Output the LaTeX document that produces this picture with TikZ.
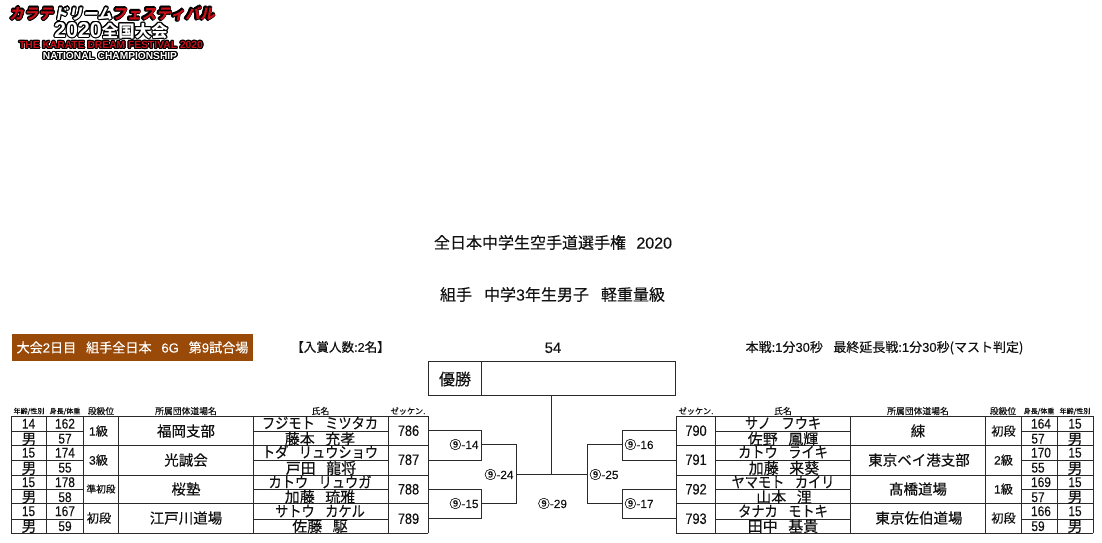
\documentclass[tikz,border=0pt]{standalone}
\usepackage{fontspec}
\usepackage{contour}
\setmainfont[FakeBold=0.25]{Noto Sans CJK JP}
\newfontfamily\arf[FakeBold=0.2]{Liberation Sans}
\newfontfamily\arn[FakeBold=0.2,FakeStretch=0.85]{Liberation Sans}
\newfontfamily\kana[FakeBold=0.25,FakeStretch=0.88]{Noto Sans CJK JP}
\newfontfamily\logof[FakeSlant=0.18]{Noto Sans CJK JP}
\newfontfamily\logoj{Noto Sans CJK JP}
\newfontfamily\logoe{Liberation Sans}
\newcommand{\fs}[1]{\fontsize{#1}{#1}\selectfont}
\newcommand{\dg}[1]{{\arf #1}}
\definecolor{inkc}{HTML}{111111}
\definecolor{linec}{HTML}{2A2A2A}
\definecolor{brownc}{HTML}{9A4A08}
\definecolor{logor}{HTML}{C80F18}
\contourlength{1.1pt}
\tikzset{
 tx/.style={inner sep=0pt,text=inkc,text height=0pt,text depth=0pt,anchor=center,font=\fs{#1},yshift={-.38*#1 pt}},
 txa/.style={tx=#1,font=\arf\fs{#1},yshift={.02*#1 pt}},
 hdr/.style={tx=8.8},
 hdrk/.style={tx=8.2},
 hdrs/.style={tx=7},
 num/.style={tx=14,font=\arn\fs{14},yshift=.3pt},
 sex/.style={tx=15},
 seed/.style={tx=15,font=\arn\fs{15},yshift=.3pt},
 dan/.style={tx=12.2},
 dojo/.style={tx=14.5},
 nmk/.style={tx=15,font=\kana\fs{15}},
 nmj/.style={tx=15},
 bout/.style={tx=11.8},
 grid/.style={draw=linec,line width=1pt},
 link/.style={draw=linec,line width=1pt},
 logot/.style={inner sep=0pt,anchor=center}
}
\begin{document}
\begin{tikzpicture}[x=1pt,y=-1pt]
\useasboundingbox (0,0) rectangle (1102,542);
\fill[white] (0,0) rectangle (1102,542);
% logo
\node[logot,font=\logof\bfseries\fs{14.8}] (lg1) at (112,14) {\contour{black}{\textcolor{logor}{カラテ}\textcolor{white}{ドリーム}\textcolor{logor}{フェスティバル}}};
\node[logot,font=\logoj\bfseries\fs{16.5}] (lg2) at (111,31) {\contour{black}{\textcolor{white}{{\logoe\bfseries\fs{21.5}2020}全国大会}}};
\node[logot,font=\logoe\bfseries\fs{10.3}] (lg3) at (111,45.5) {\contour{black}{\textcolor{logor}{THE KARATE DREAM FESTIVAL 2020}}};
\node[logot,font=\logoe\bfseries\fs{10.2}] (lg4) at (110,56.5) {\contour{black}{\textcolor{white}{NATIONAL CHAMPIONSHIP}}};
% titles
\node[tx=16] (t1) at (553,242.5) {全日本中学生空手道選手権\hspace{.65em}\dg{2020}};
\node[tx=16] (t2) at (552.5,294.5) {組手\hspace{.75em}中学\dg{3}年生男子\hspace{.75em}軽重量級};
% info row
\node[fill=brownc,minimum width=241pt,minimum height=27pt,inner sep=0pt] (cat) at (132.5,347.5) {};
\node[tx=13.1,text=white] (catt) at (cat.center) {大会\dg{2}日目\hspace{.75em}組手全日本\hspace{.75em}\dg{6G}\hspace{.75em}第\dg{9}試合場};
\node[tx=12.6] (prize) at (340.5,347) {【入賞人数:\dg{2}名】};
\node[txa=15] (no) at (553,347.5) {54};
\node[tx=13] (rule) at (884.5,347) {本戦:\dg{1}分\dg{30}秒\hspace{.8em}最終延長戦:\dg{1}分\dg{30}秒(マスト判定)};
% winner
\draw[grid] (428.3,361) rectangle (675.7,395.7);
\draw[grid] (481.7,361) -- (481.7,395.7);
\node[tx=16] (win) at (455,379) {優勝};
\coordinate (wb) at (551.3,395.7);
% left table
\foreach \x in {11,46,83,118,253,388,428} \draw[grid] (\x,416) -- (\x,533);
\foreach \y in {416,445.5,475,503.5,533} \draw[grid] (11,\y) -- (428,\y);
\foreach \y in {431,460,489.5,519} {\draw[grid] (11,\y) -- (83,\y); \draw[grid] (253,\y) -- (388,\y);}
% right table
\foreach \x in {676,715.5,850.5,985.5,1021,1057,1093} \draw[grid] (\x,416) -- (\x,533);
\foreach \y in {416,445.5,475,503.5,533} \draw[grid] (676,\y) -- (1093,\y);
\foreach \y in {431,460,489.5,519} {\draw[grid] (715.5,\y) -- (850.5,\y); \draw[grid] (1021,\y) -- (1093,\y);}
% left headers
\node[hdrs] (hl1) at (29,411) {年齢/性別};
\node[hdrs] (hl2) at (65,411) {身長/体重};
\node[hdr] (hl3) at (101,411) {段級位};
\node[hdr] (hl4) at (186,411) {所属団体道場名};
\node[hdr] (hl5) at (320.5,411) {氏名};
\node[hdrk] (hl6) at (408,411) {ゼッケン.};
% right headers
\node[hdrk] (hr6) at (696,411) {ゼッケン.};
\node[hdr] (hr5) at (783,411) {氏名};
\node[hdr] (hr4) at (918,411) {所属団体道場名};
\node[hdr] (hr3) at (1003,411) {段級位};
\node[hdrs] (hr2) at (1039,411) {身長/体重};
\node[hdrs] (hr1) at (1075,411) {年齢/性別};
% left rows
\node[num] (a1) at (28.5,423.5) {14}; \node[sex] (a2) at (29,439) {男};
\node[num] (a3) at (28.5,452.5) {15}; \node[sex] (a4) at (29,468) {男};
\node[num] (a5) at (28.5,482) {15};   \node[sex] (a6) at (29,497) {男};
\node[num] (a7) at (28.5,511) {15};   \node[sex] (a8) at (29,526) {男};
\node[num] (b1) at (65,423.5) {162}; \node[num] (b2) at (65,438.5) {57};
\node[num] (b3) at (65,452.5) {174}; \node[num] (b4) at (65,467.5) {55};
\node[num] (b5) at (65,482) {178};   \node[num] (b6) at (65,497) {58};
\node[num] (b7) at (65,511) {167};   \node[num] (b8) at (65,526) {59};
\node[dan] (c1) at (98.5,431) {\dg{1}級};
\node[dan] (c2) at (98.5,460) {\dg{3}級};
\node[tx=9.7] (c3) at (101,489) {準初段};
\node[dan] (c4) at (99,518) {初段};
\node[dojo] (d1) at (186,431) {福岡支部};
\node[dojo] (d2) at (186,460) {光誠会};
\node[dojo] (d3) at (186,489) {桜塾};
\node[dojo] (d4) at (186,518) {江戸川道場};
\node[nmk] (e1) at (320,423) {フジモト\hspace{.7em}ミツタカ};
\node[nmj] (e2) at (320,439) {藤本\hspace{.7em}充孝};
\node[nmk] (e3) at (320,452) {トダ\hspace{.7em}リュウショウ};
\node[nmj] (e4) at (321,468) {戸田\hspace{.7em}龍将};
\node[nmk] (e5) at (320,482) {カトウ\hspace{.7em}リュウガ};
\node[nmj] (e6) at (320,497) {加藤\hspace{.7em}琉雅};
\node[nmk] (e7) at (320,511) {サトウ\hspace{.7em}カケル};
\node[nmj] (e8) at (320,526) {佐藤\hspace{.7em}駆};
\node[seed] (s1) at (408.5,430.5) {786};
\node[seed] (s2) at (408.5,459.5) {787};
\node[seed] (s3) at (408.5,489) {788};
\node[seed] (s4) at (408.5,518.5) {789};
% right rows
\node[seed] (s5) at (696,430.5) {790};
\node[seed] (s6) at (696,459.5) {791};
\node[seed] (s7) at (696,489) {792};
\node[seed] (s8) at (696,518.5) {793};
\node[nmk] (f1) at (783,423) {サノ\hspace{.7em}フウキ};
\node[nmj] (f2) at (783,439) {佐野\hspace{.7em}鳳輝};
\node[nmk] (f3) at (783,452) {カトウ\hspace{.7em}ライキ};
\node[nmj] (f4) at (784,468) {加藤\hspace{.7em}来葵};
\node[nmk] (f5) at (783,482) {ヤマモト\hspace{.7em}カイリ};
\node[nmj] (f6) at (784,497) {山本\hspace{.7em}浬};
\node[nmk] (f7) at (783,511) {タナカ\hspace{.7em}モトキ};
\node[nmj] (f8) at (783,526) {田中\hspace{.7em}基貴};
\node[dojo] (g1) at (918,431) {綀};
\node[dojo] (g2) at (919,460) {東京ベイ港支部};
\node[dojo] (g3) at (918,489) {髙橋道場};
\node[dojo] (g4) at (919,518) {東京佐伯道場};
\node[dan] (h1) at (1003.5,431) {初段};
\node[dan] (h2) at (1003.5,460) {\dg{2}級};
\node[dan] (h3) at (1003.5,489) {\dg{1}級};
\node[dan] (h4) at (1003.5,518) {初段};
\node[num] (i1) at (1041,423.5) {164}; \node[num] (i2) at (1038,438.5) {57};
\node[num] (i3) at (1041,452.5) {170}; \node[num] (i4) at (1038,467.5) {55};
\node[num] (i5) at (1041,482) {169};   \node[num] (i6) at (1038,497) {57};
\node[num] (i7) at (1041,511) {166};   \node[num] (i8) at (1038,526) {59};
\node[num] (j1) at (1075,423.5) {15}; \node[sex] (j2) at (1075,439) {男};
\node[num] (j3) at (1075,452.5) {15}; \node[sex] (j4) at (1075,468) {男};
\node[num] (j5) at (1075,482) {15};   \node[sex] (j6) at (1075,497) {男};
\node[num] (j7) at (1075,511) {15};   \node[sex] (j8) at (1075,526) {男};
% bracket coordinates
\coordinate (l1) at (428,430); \coordinate (l2) at (428,460);
\coordinate (l3) at (428,489); \coordinate (l4) at (428,518.7);
\coordinate (r1) at (676,430); \coordinate (r2) at (676,460);
\coordinate (r3) at (676,489); \coordinate (r4) at (676,518.7);
\coordinate (p14) at (481.7,444.5); \coordinate (p15) at (481.7,503.7);
\coordinate (p16) at (622.3,444.5); \coordinate (p17) at (622.3,503.7);
\coordinate (p24) at (516.7,474.3); \coordinate (p25) at (587.7,474.3);
\coordinate (pf) at (551.3,474.3);
% bracket lines
\draw[link] (l1) -| (p14) |- (l2);
\draw[link] (l3) -| (p15) |- (l4);
\draw[link] (r1) -| (p16) |- (r2);
\draw[link] (r3) -| (p17) |- (r4);
\draw[link] (p14) -| (p24) |- (p15);
\draw[link] (p16) -| (p25) |- (p17);
\draw[link] (p24) -- (p25);
\draw[link] (pf) -- (wb);
% bout labels
\node[bout] (m14) at (464,444.5) {⑨-\dg{14}};
\node[bout] (m24) at (499,474.5) {⑨-\dg{24}};
\node[bout] (m15) at (464,503.5) {⑨-\dg{15}};
\node[bout] (m29) at (552.5,503.5) {⑨-\dg{29}};
\node[bout] (m25) at (604,474.5) {⑨-\dg{25}};
\node[bout] (m16) at (639,444.5) {⑨-\dg{16}};
\node[bout] (m17) at (639,503.5) {⑨-\dg{17}};
\end{tikzpicture}
\end{document}
